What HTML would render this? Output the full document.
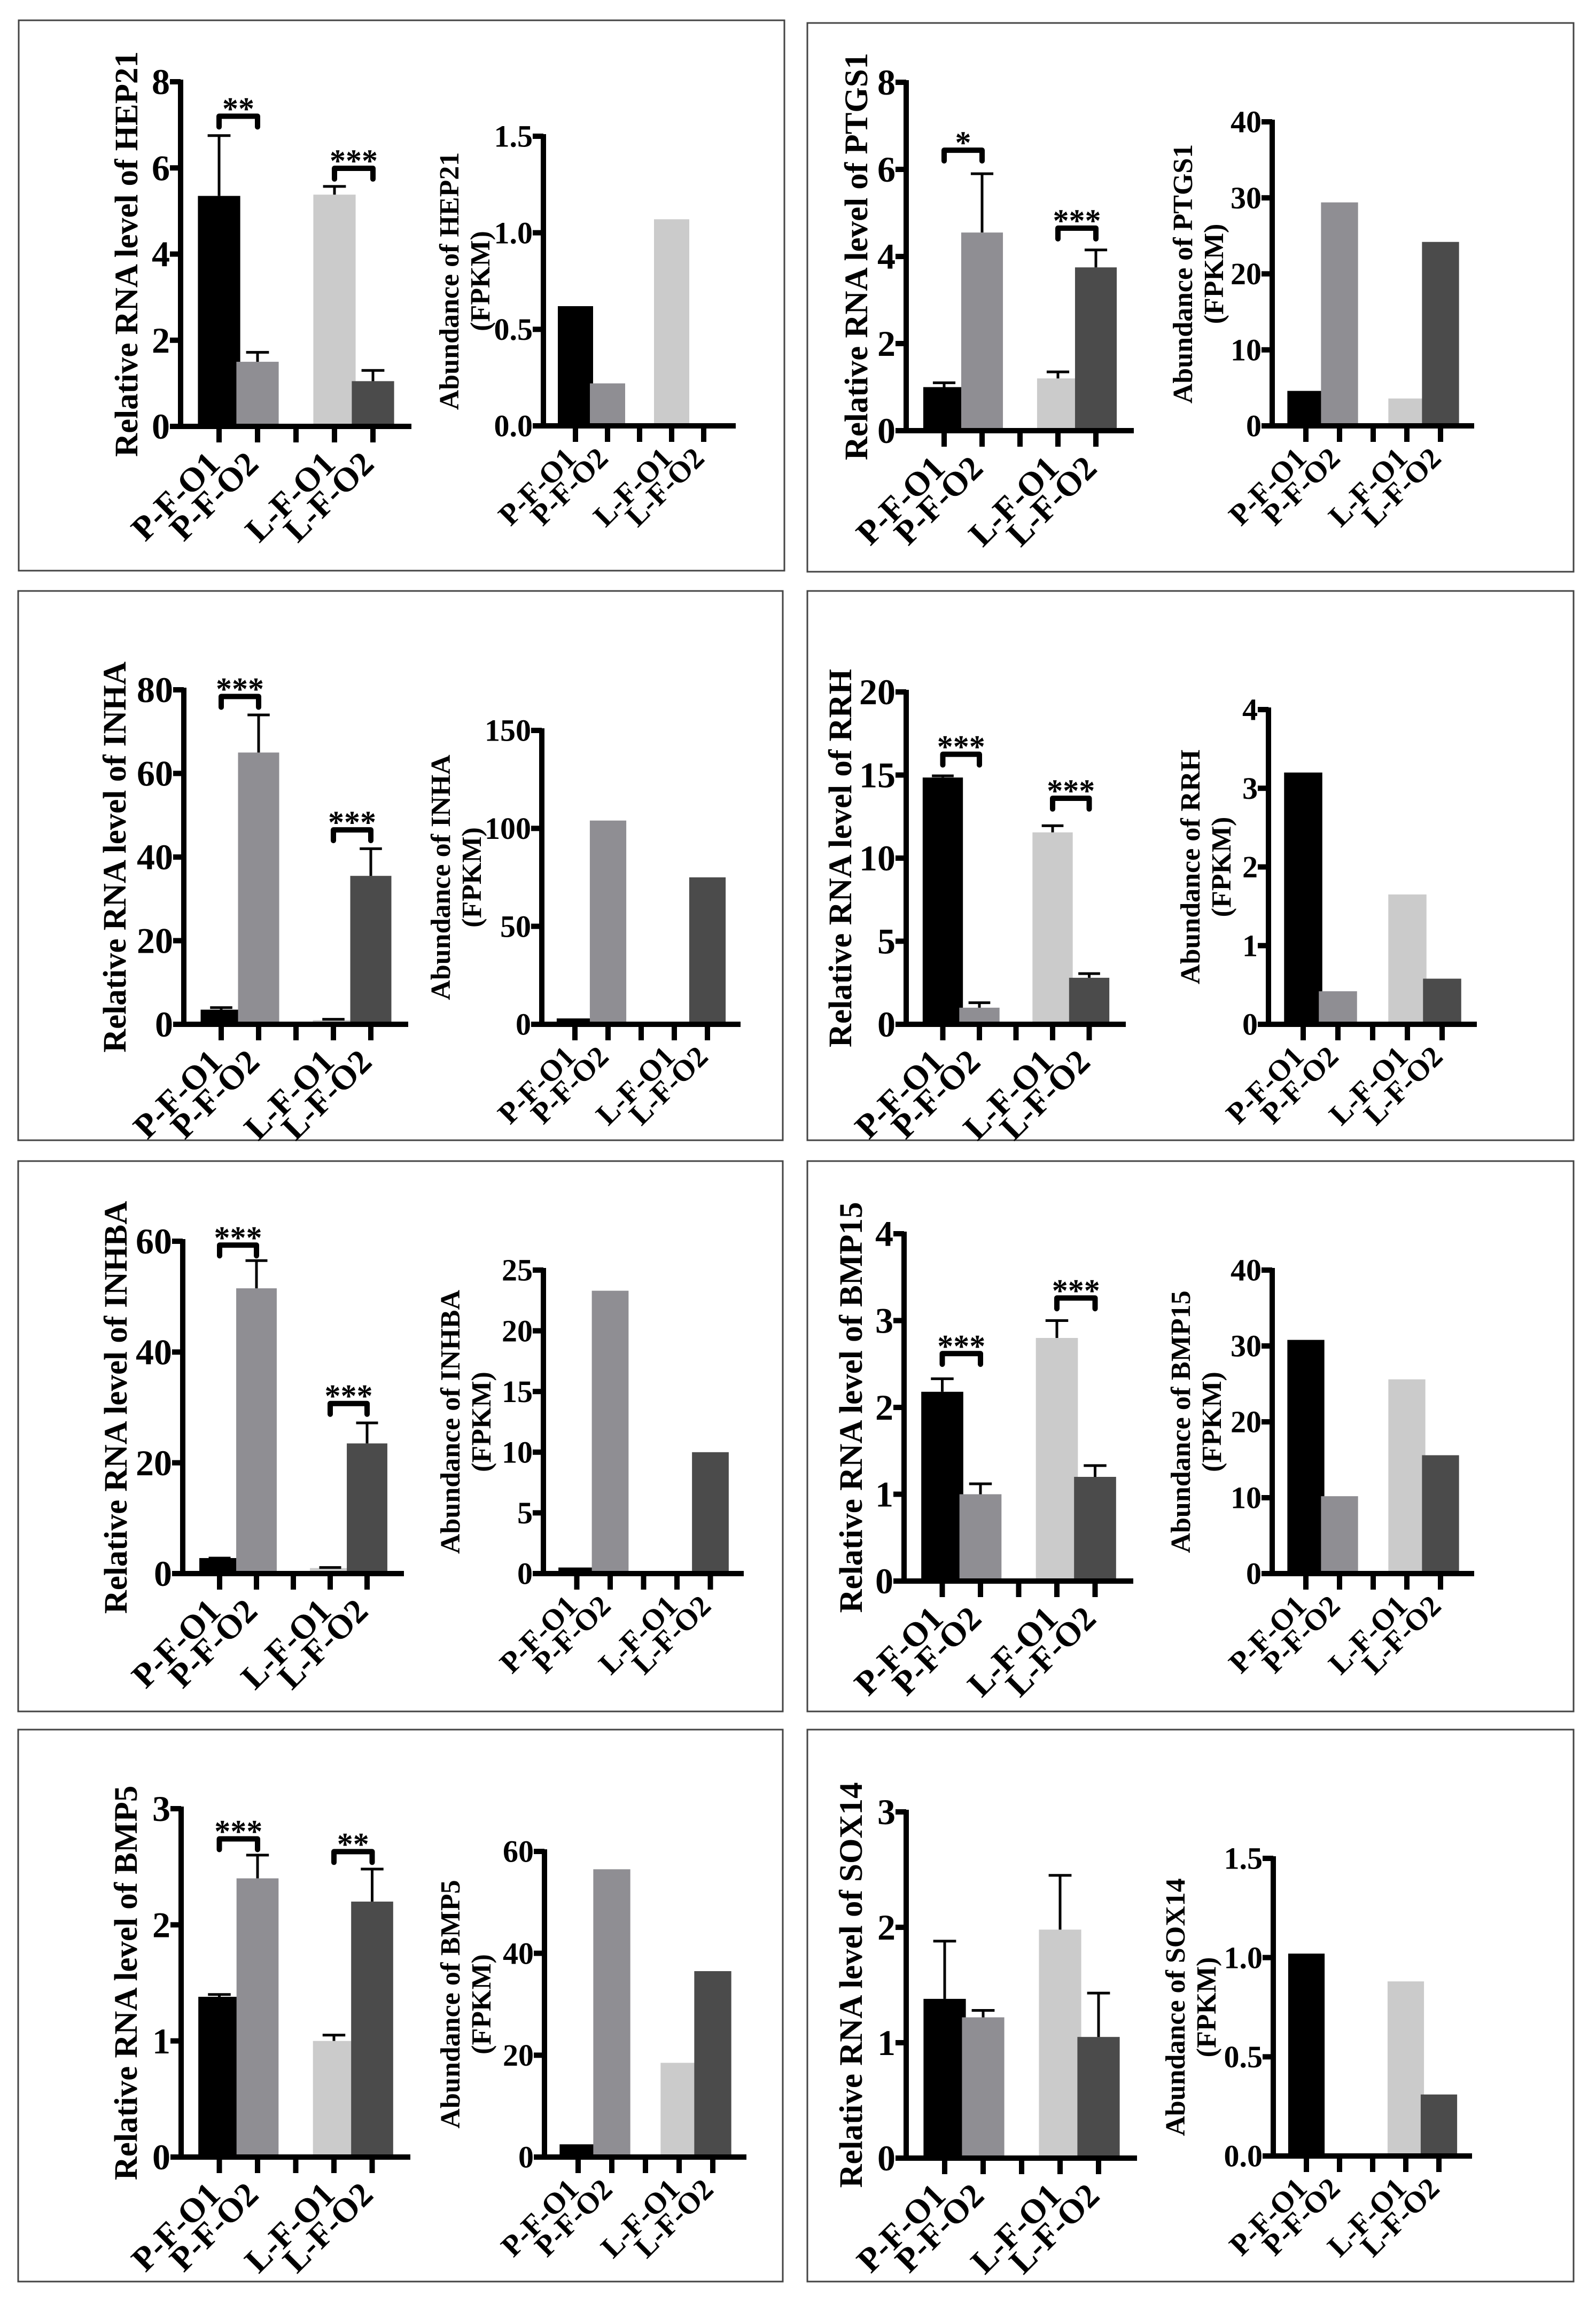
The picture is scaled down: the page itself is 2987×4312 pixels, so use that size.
<!DOCTYPE html>
<html><head><meta charset="utf-8">
<style>
html,body{margin:0;padding:0;background:#fff;}
svg{display:block;}
text{font-family:"Liberation Serif",serif;font-weight:bold;fill:#000;}
</style></head>
<body>
<svg id="fig" xmlns="http://www.w3.org/2000/svg" width="2987" height="4312" viewBox="0 0 2987 4312"></svg>
<script>
const categories=['P-F-O1','P-F-O2','L-F-O1','L-F-O2'];
const barColors=['#000000','#8f8e93','#cbcbcb','#4b4b4b'];

const hep21Rna=[5.35,1.5,5.38,1.05];
const hep21RnaErr=[6.75,1.72,5.57,1.3];
const hep21Fpkm=[0.62,0.22,1.07,0];
const hep21Sig=['**','***'];
const hep21SigTop=[7.2,5.99];

const ptgs1Rna=[1.0,4.55,1.2,3.75];
const ptgs1RnaErr=[1.1,5.9,1.35,4.15];
const ptgs1Fpkm=[4.6,29.4,3.6,24.2];
const ptgs1Sig=['*','***'];
const ptgs1SigTop=[6.44,4.65];

const inhaRna=[3.5,65,1,35.5];
const inhaRnaErr=[4,74,1.2,42];
const inhaFpkm=[3,104,1,75];
const inhaSig=['***','***'];
const inhaSigTop=[78.4,46.5];

const rrhRna=[14.85,1.0,11.55,2.8];
const rrhRnaErr=[14.95,1.3,11.95,3.05];
const rrhFpkm=[3.2,0.42,1.65,0.58];
const rrhSig=['***','***'];
const rrhSigTop=[16.25,13.6];

const inhbaRna=[2.8,51.5,1,23.5];
const inhbaRnaErr=[2.8,56.5,1.1,27.2];
const inhbaFpkm=[0.5,23.3,0.15,10];
const inhbaSig=['***','***'];
const inhbaSigTop=[59.3,30.7];

const bmp15Rna=[2.18,1.0,2.8,1.2];
const bmp15RnaErr=[2.33,1.12,3.0,1.33];
const bmp15Fpkm=[30.8,10.2,25.6,15.6];
const bmp15Sig=['***','***'];
const bmp15SigTop=[2.62,3.26];

const bmp5Rna=[1.38,2.4,1.0,2.2];
const bmp5RnaErr=[1.4,2.6,1.05,2.48];
const bmp5Fpkm=[2.5,56.5,18.5,36.5];
const bmp5Sig=['***','**'];
const bmp5SigTop=[2.74,2.63];

const sox14Rna=[1.38,1.22,1.98,1.05];
const sox14RnaErr=[1.88,1.28,2.45,1.43];
const sox14Fpkm=[1.02,0,0.88,0.31];
const sox14Sig=[];
const sox14SigTop=[];

const NS='http://www.w3.org/2000/svg';
const svg=document.getElementById('fig');
function mk(tag,attrs,parent){const e=document.createElementNS(NS,tag);for(const k in attrs)e.setAttribute(k,attrs[k]);(parent||svg).appendChild(e);return e;}

const panels=[
 {gene:'HEP21',box:[35,38,1433,1030],L:{ax:338,yt:153,y0:798,max:8,step:2,dec:0,slot:72,data:hep21Rna,err:hep21RnaErr,sig:hep21Sig,sigTop:hep21SigTop,tOff:-102},R:{ax:1017,yt:255,y0:797,max:1.5,step:0.5,dec:1,slot:60,data:hep21Fpkm,t1:-178}},
 {gene:'PTGS1',box:[1511,43,1434,1027],L:{ax:1696,yt:154,y0:806,max:8,step:2,dec:0,slot:71,data:ptgs1Rna,err:ptgs1RnaErr,sig:ptgs1Sig,sigTop:ptgs1SigTop,tOff:-94},R:{ax:2381,yt:228,y0:797,max:40,step:10,dec:0,slot:63,data:ptgs1Fpkm,t1:-169}},
 {gene:'INHA',box:[34,1106,1431,1028],L:{ax:344,yt:1291,y0:1917,max:80,step:20,dec:0,slot:70,data:inhaRna,err:inhaRnaErr,sig:inhaSig,sigTop:inhaSigTop,tOff:-130},R:{ax:1014,yt:1367,y0:1917,max:150,step:50,dec:0,slot:62,data:inhaFpkm,t1:-191}},
 {gene:'RRH',box:[1511,1106,1434,1028],L:{ax:1696,yt:1295,y0:1917,max:20,step:5,dec:0,slot:68.5,data:rrhRna,err:rrhRnaErr,sig:rrhSig,sigTop:rrhSigTop,tOff:-124},R:{ax:2374,yt:1328,y0:1917,max:4,step:1,dec:0,slot:65,data:rrhFpkm,t1:-148}},
 {gene:'INHBA',box:[34,2173,1431,1030],L:{ax:342,yt:2323,y0:2945,max:60,step:20,dec:0,slot:69,data:inhbaRna,err:inhbaRnaErr,sig:inhbaSig,sigTop:inhbaSigTop,tOff:-126},R:{ax:1017,yt:2377,y0:2945,max:25,step:5,dec:0,slot:62.5,data:inhbaFpkm,t1:-176}},
 {gene:'BMP15',box:[1511,2173,1434,1030],L:{ax:1692,yt:2309,y0:2959,max:4,step:1,dec:0,slot:71.5,data:bmp15Rna,err:bmp15RnaErr,sig:bmp15Sig,sigTop:bmp15SigTop,tOff:-100},R:{ax:2381,yt:2377,y0:2945,max:40,step:10,dec:0,slot:63,data:bmp15Fpkm,t1:-173}},
 {gene:'BMP5',box:[34,3237,1431,1033],L:{ax:339,yt:3385,y0:4037,max:3,step:1,dec:0,slot:71.5,data:bmp5Rna,err:bmp5RnaErr,sig:bmp5Sig,sigTop:bmp5SigTop,tOff:-104},R:{ax:1019,yt:3465,y0:4037,max:60,step:20,dec:0,slot:63,data:bmp5Fpkm,t1:-178}},
 {gene:'SOX14',box:[1511,3237,1434,1033],L:{ax:1696,yt:3391,y0:4039,max:3,step:1,dec:0,slot:72,data:sox14Rna,err:sox14RnaErr,sig:sox14Sig,sigTop:sox14SigTop,tOff:-104},R:{ax:2383,yt:3478,y0:4035,max:1.5,step:0.5,dec:1,slot:62,data:sox14Fpkm,t1:-185}}
];
const slotPos=[0,1,3,4];

function drawChart(c,g,kind,gene){
  const tickFs=kind==='rna'?68:58, labFs=kind==='rna'?64:56;
  const y=v=>c.y0-(v/c.max)*(c.y0-c.yt);
  const xTick=i=>c.ax+c.slot*(i+1);
  const bw=c.slot*1.1;
  const grp=mk('g',{},g);
  
  
  c.data.forEach((v,i)=>{
    const cx=xTick(slotPos[i]);
    if(v>0){
      const r=mk('rect',{x:cx-bw/2,y:y(v),width:bw,height:c.y0-y(v),fill:barColors[i]},grp);
      
      
    }
    if(c.err){
      const e=mk('path',{d:`M${cx} ${y(v)} V${y(c.err[i])} M${cx-bw*0.27} ${y(c.err[i])} H${cx+bw*0.27}`,stroke:'#000','stroke-width':5,fill:'none'},grp);
      
      
    }
  });
  const ya=mk('path',{d:`M${c.ax} ${c.yt-4} V${c.y0}`,stroke:'#000','stroke-width':10,fill:'none'},grp);
  
  
  const xa=mk('path',{d:`M${c.ax-20} ${c.y0} H${c.ax+6*c.slot}`,stroke:'#000','stroke-width':10,fill:'none'},grp);
  
  
  for(let v=0;v<=c.max+1e-9;v+=c.step){
    mk('path',{d:`M${c.ax-20} ${y(v)} H${c.ax}`,stroke:'#000','stroke-width':10},grp);
    const t=mk('text',{x:c.ax-20,y:y(v)+tickFs*0.34,'text-anchor':'end','font-size':tickFs},grp);
    t.textContent=v.toFixed(c.dec);
    
    
  }
  for(let i=0;i<5;i++){
    mk('path',{d:`M${xTick(i)} ${c.y0} V${c.y0+30}`,stroke:'#000','stroke-width':10},grp);
  }
  categories.forEach((cat,i)=>{
    const tx=xTick(slotPos[i])+(kind==='rna'?5:4), ty=c.y0+(kind==='rna'?74:64);
    const t=mk('text',{x:tx,y:ty,'text-anchor':'end','font-size':labFs,transform:`rotate(-45 ${tx} ${ty})`},grp);
    t.textContent=cat;
    
    
  });
  const ym=(c.yt+c.y0)/2;
  if(kind==='rna'){
    const tx=c.ax+c.tOff+21;
    const t=mk('text',{x:tx,y:ym,'text-anchor':'middle','font-size':61,transform:`rotate(-90 ${tx} ${ym})`},grp);
    t.textContent='Relative RNA level of '+gene;
    
    
    c.sig.forEach((s,k)=>{
      const a=xTick(k===0?0:3), b=xTick(k===0?1:4), top=y(c.sigTop[k]);
      const br=mk('path',{d:`M${a} ${top+20} V${top} H${b} V${top+20}`,stroke:'#000','stroke-width':10,fill:'none','stroke-linecap':'round','stroke-linejoin':'round'},grp);
      
      
      const st=mk('text',{x:(a+b)/2,y:top+6,'text-anchor':'middle','font-size':60},grp);
      st.textContent=s;
      
      
    });
  } else {
    const l1=c.ax+c.t1+19, l2=l1+58;
    const t=mk('text',{x:l1,y:ym,'text-anchor':'middle','font-size':52,transform:`rotate(-90 ${l1} ${ym})`},grp);
    t.textContent='Abundance of '+gene;
    
    
    const t2=mk('text',{x:l2,y:ym,'text-anchor':'middle','font-size':52,transform:`rotate(-90 ${l2} ${ym})`},grp);
    t2.textContent='(FPKM)';
    
    
  }
}

panels.forEach(p=>{
  const g=mk('g',{});
  
  
  const [x,y,w,h]=p.box;
  const r=mk('rect',{x:x,y:y,width:w,height:h,fill:'none',stroke:'#444','stroke-width':3},g);
  
  
  drawChart(p.L,g,'rna',p.gene);
  drawChart(p.R,g,'fpkm',p.gene);
});
</script>
</body></html>
